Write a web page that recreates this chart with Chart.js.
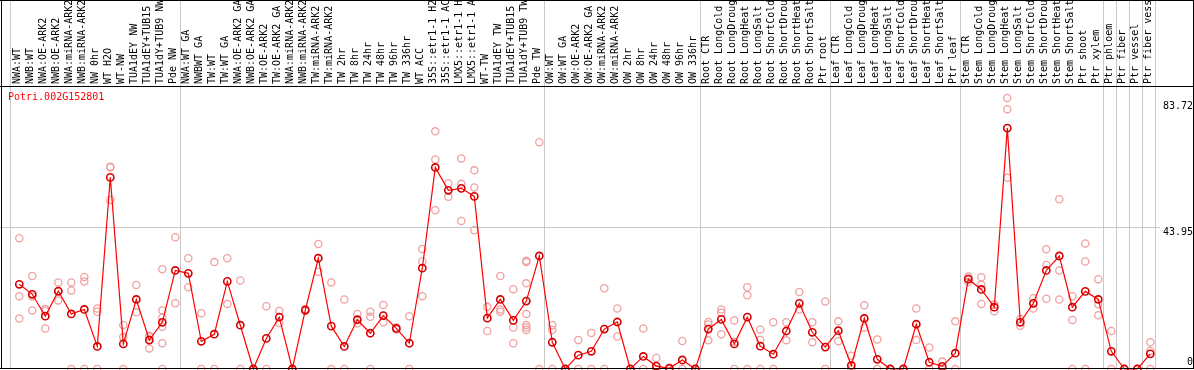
<!DOCTYPE html>
<html>
<head>
<meta charset="utf-8">
<script src="https://cdn.jsdelivr.net/npm/chart.js@4"></script>
<style>
html,body{margin:0;padding:0;background:#fff;}
#wrap{width:1194px;height:370px;position:relative;}
</style>
</head>
<body>
<div id="wrap"><canvas id="c" width="1194" height="370"></canvas></div>
<script>
const geneTitle = "Potri.002G152801";
const categories = [
"NWA:WT","NWB:WT","NWA:OE-ARK2","NWB:OE-ARK2","NWA:miRNA-ARK2","NWB:miRNA-ARK2","NW 0hr","WT H2O","WT-NW","TUA1dEY NW",
"TUA1dEY+TUB15","TUA1dY+TUB9 NW","Pde NW","NWA:WT GA","NWBWT GA","TW:WT","TW:WT GA","NWA:OE-ARK2 GA","NWB:OE-ARK2 GA","TW:OE-ARK2",
"TW:OE-ARK2 GA","NWA:miRNA-ARK2","NWB:miRNA-ARK2","TW:miRNA-ARK2","TW:miRNA-ARK2","TW 2hr","TW 8hr","TW 24hr","TW 48hr","TW 96hr",
"TW 336hr","WT ACC","35S::etr1-1 H2","35S::etr1-1 AC","LMX5::etr1-1 H","LMX5::etr1-1 A","WT-TW","TUA1dEY TW","TUA1dEY+TUB15","TUA1dY+TUB9 TW",
"Pde TW","OW:WT","OW:WT GA","OW:OE-ARK2","OW:OE-ARK2 GA","OW:miRNA-ARK2","OW:miRNA-ARK2","OW 2hr","OW 8hr","OW 24hr",
"OW 48hr","OW 96hr","OW 336hr","Root CTR","Root LongCold","Root LongDroug","Root LongHeat","Root LongSalt","Root ShortCold","Root ShortDrou",
"Root ShortHeat","Root ShortSalt","Ptr root","Leaf CTR","Leaf LongCold","Leaf LongDroug","Leaf LongHeat","Leaf LongSalt","Leaf ShortCold","Leaf ShortDrou",
"Leaf ShortHeat","Leaf ShortSalt","Ptr leaf","Stem CTR","Stem LongCold","Stem LongDroug","Stem LongHeat","Stem LongSalt","Stem ShortCold","Stem ShortDrou",
"Stem ShortHeat","Stem ShortSalt","Ptr shoot","Ptr xylem","Ptr phloem","Ptr fiber","Ptr vessel","Ptr fiber vess"
];
const meanValues = [
26.3,23.2,16.4,24.2,17.1,18.5,7.0,59.5,7.8,21.6,
9.0,14.5,30.6,29.7,8.6,10.8,27.2,13.6,0,9.5,
16.1,0,18.3,34.4,13.3,7.0,15.3,11.1,16.6,12.6,
8.0,31.3,62.6,55.5,56.1,53.6,15.8,21.6,15.1,21.1,
35.1,8.3,0,4.3,5.5,12.4,14.6,0,3.9,0.9,
0.2,2.8,0,12.4,15.4,7.8,16.1,7.1,4.6,11.8,
20.4,11.4,6.8,11.9,1.1,15.7,3.0,0,0,13.9,
2.1,0.8,4.9,27.9,24.7,19.2,74.8,14.5,20.4,30.6,
35.1,19.2,24.1,21.6,5.5,0,0,4.7
];
const replicateValues = [
[40.6,22.6,15.7],[28.9,22.5,18.2],[18.6,18.0,12.6],[26.9,24.0,21.3],[26.9,24.4,0],[28.6,27.2,0],[18.8,17.8,0],[62.8,62.6,52.5],[13.7,9.9,0],[26.1,17.6],
[10.3,10.0,6.4],[31.0,18.2,15.9,13.1,8.0,0],[40.9,20.4],[34.4,25.4],[17.3,0],[33.2,0],[34.4,20.2],[27.5,0],[0,0],[19.5,0],
[18.0,14.3],[0,0],[18.6,18.0],[38.8,30.2],[26.9,0],[21.6,0],[17.1,14.2],[17.8,16.2,0],[19.9,14.5],[12.9,12.3],
[16.4,0],[37.3,33.4,22.6],[73.8,65.1,49.3],[57.7,53.5],[65.4,57.5,46.0],[61.7,56.4,43.1],[19.3,11.8],[28.9,18.5,17.8],[24.8,12.9,8.0],[33.6,33.2,26.6,17.1,13.7,12.9,12.1],
[70.4,0],[13.6,12.1,0],[0,0],[9.0,0],[11.2,0],[25.1,0],[18.8,10.1],[0,0],[12.6,0],[3.4,0],
[0.5,0],[8.7,0],[0,0],[14.6,8.9,13.8],[18.5,17.5,10.8],[15.1,8.5,0],[25.4,22.9,0],[12.3,9.0,0],[14.5,0],[14.5,8.9],
[23.9,18.5],[14.5,8.3],[21.0,0],[14.8,8.6],[4.1,0],[19.8,12.9],[9.2,0],[0,0],[0,0],[18.8,9.0],
[6.7,0],[2.3,0],[14.8,0],[28.7,28.0,27.1],[28.5,26.2,20.2],[20.0,17.9],[84.2,80.7,59.4],[15.5,13.4],[22.0,18.8],[37.2,32.3,21.8],
[52.7,30.6,21.6],[22.6,15.2,0],[39.0,33.4,0],[27.9,20.1,16.7],[11.8,0],[0,0],[0,0],[8.3,5.6,0]
];
const yTickLabels = ["83.72","43.95","0"];
const yTickValues = [83.72,43.95,0];
const groupEnds = [-2,12,40,52,62,72,83,84,85,86,87];

const meanPoints = meanValues.map((v,i)=>({x:i,y:v}));
const repPoints = [];
replicateValues.forEach((arr,i)=>arr.forEach(v=>repPoints.push({x:i,y:v})));

const STEP = 13;
const xMin = -19.3/STEP;
const xMax = xMin + 1194/STEP;

const decor = {
  id:'decor',
  beforeDraw(chart){
    const ctx = chart.ctx, xs = chart.scales.x, ys = chart.scales.y, ca = chart.chartArea;
    ctx.save();
    ctx.strokeStyle = '#c8c8c8';
    ctx.lineWidth = 1;
    groupEnds.forEach(k=>{
      const off = k < 0 ? 1.31 : 0.38;
      const px = Math.round(xs.getPixelForValue(k + off)) + 0.5;
      ctx.beginPath(); ctx.moveTo(px,0); ctx.lineTo(px,ca.bottom); ctx.stroke();
    });
    const gy = Math.round(ys.getPixelForValue(yTickValues[1])) + 0.5;
    ctx.beginPath(); ctx.moveTo(0,gy); ctx.lineTo(1160,gy); ctx.stroke();
    ctx.restore();
  },
  afterDraw(chart){
    const ctx = chart.ctx, ys = chart.scales.y, ca = chart.chartArea;
    ctx.save();
    ctx.strokeStyle = '#000';
    ctx.lineWidth = 1;
    ctx.beginPath();
    ctx.moveTo(0,0.5); ctx.lineTo(1194,0.5);
    ctx.moveTo(0,ca.top+0.5); ctx.lineTo(1194,ca.top+0.5);
    ctx.moveTo(0,ca.bottom-0.5); ctx.lineTo(1194,ca.bottom-0.5);
    ctx.moveTo(1.5,0); ctx.lineTo(1.5,ca.bottom);
    ctx.moveTo(1193.5,0); ctx.lineTo(1193.5,ca.bottom);
    ctx.stroke();
    ctx.font = '10px "DejaVu Sans Mono", monospace';
    ctx.fillStyle = '#ff0000';
    ctx.textAlign = 'left';
    ctx.textBaseline = 'middle';
    ctx.fillText(geneTitle, 8, ca.top + 11);
    ctx.fillStyle = '#000';
    ctx.textAlign = 'right';
    const offs = [7, 5, -7];
    yTickValues.forEach((v,i)=>{
      ctx.fillText(yTickLabels[i], 1193, ys.getPixelForValue(v) + offs[i]);
    });
    ctx.restore();
  }
};

new Chart(document.getElementById('c'), {
  type:'scatter',
  data:{
    datasets:[
      {
        label:'replicates',
        data:repPoints,
        showLine:false,
        pointStyle:'circle',
        pointRadius:3.6,
        pointBorderWidth:1.3,
        pointBorderColor:'#f0a0a0',
        pointBackgroundColor:'rgba(0,0,0,0)',
        clip:false,
        order:2
      },
      {
        label:'mean',
        data:meanPoints,
        showLine:true,
        borderColor:'#ff0000',
        borderWidth:1.2,
        tension:0,
        pointStyle:'circle',
        pointRadius:3.6,
        pointBorderWidth:1.6,
        pointBorderColor:'#d40000',
        pointBackgroundColor:'rgba(0,0,0,0)',
        clip:false,
        order:1
      }
    ]
  },
  options:{
    responsive:false,
    animation:false,
    layout:{autoPadding:false,padding:{left:0,right:0,top:0,bottom:1}},
    plugins:{legend:{display:false},tooltip:{enabled:false},title:{display:false}},
    scales:{
      x:{
        type:'linear',
        position:'top',
        min:xMin,
        max:xMax,
        grid:{display:false,drawTicks:false},
        border:{display:false},
        afterFit(scale){ scale.height = 86; scale.paddingLeft = 0; scale.paddingRight = 0; },
        ticks:{
          stepSize:1,
          autoSkip:false,
          maxTicksLimit:1000,
          maxRotation:90,
          minRotation:90,
          padding:2,
          labelOffset:10,
          color:'#000',
          font:{family:'"DejaVu Sans Mono", monospace',size:10},
          callback(v){ return (Number.isInteger(v) && categories[v] !== undefined) ? categories[v] : ''; }
        }
      },
      y:{
        type:'linear',
        display:false,
        min:0,
        max:87.89
      }
    }
  },
  plugins:[decor]
});
</script>
</body>
</html>
